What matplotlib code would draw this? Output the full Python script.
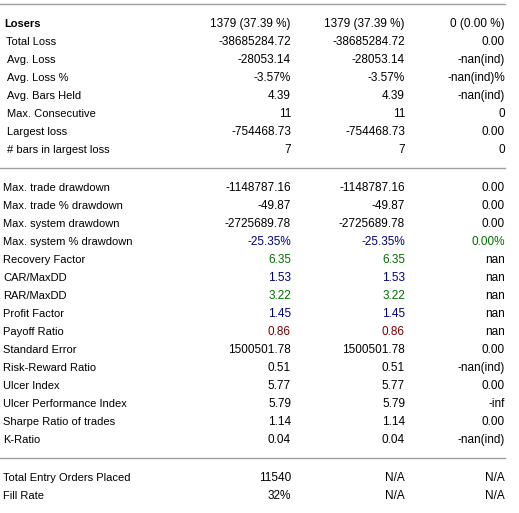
import matplotlib.pyplot as plt

# section 1: losers
loser_labels = ['Losers', 'Total Loss', 'Avg. Loss', 'Avg. Loss %', 'Avg. Bars Held',
                'Max. Consecutive', 'Largest loss', '# bars in largest loss']
loser_all = ['1379 (37.39 %)', '-38685284.72', '-28053.14', '-3.57%', '4.39', '11',
             '-754468.73', '7']
loser_long = ['1379 (37.39 %)', '-38685284.72', '-28053.14', '-3.57%', '4.39', '11',
              '-754468.73', '7']
loser_short = ['0 (0.00 %)', '0.00', '-nan(ind)', '-nan(ind)%', '-nan(ind)', '0',
               '0.00', '0']

# section 2: drawdown / ratios
stat_labels = ['Max. trade drawdown', 'Max. trade % drawdown', 'Max. system drawdown',
               'Max. system % drawdown', 'Recovery Factor', 'CAR/MaxDD', 'RAR/MaxDD',
               'Profit Factor', 'Payoff Ratio', 'Standard Error', 'Risk-Reward Ratio',
               'Ulcer Index', 'Ulcer Performance Index', 'Sharpe Ratio of trades', 'K-Ratio']
stat_all = ['-1148787.16', '-49.87', '-2725689.78', '-25.35%', '6.35', '1.53', '3.22',
            '1.45', '0.86', '1500501.78', '0.51', '5.77', '5.79', '1.14', '0.04']
stat_long = ['-1148787.16', '-49.87', '-2725689.78', '-25.35%', '6.35', '1.53', '3.22',
             '1.45', '0.86', '1500501.78', '0.51', '5.77', '5.79', '1.14', '0.04']
stat_short = ['0.00', '0.00', '0.00', '0.00%', 'nan', 'nan', 'nan', 'nan', 'nan',
              '0.00', '-nan(ind)', '0.00', '-inf', '0.00', '-nan(ind)']
# colour code per row for the value cells (k=black, b=blue, g=green, r=red)
stat_tone_all = ['k', 'k', 'k', 'b', 'g', 'b', 'g', 'b', 'r', 'k', 'k', 'k', 'k', 'k', 'k']
stat_tone_short = ['k', 'k', 'k', 'g', 'k', 'k', 'k', 'k', 'k', 'k', 'k', 'k', 'k', 'k', 'k']

# section 3: orders
order_labels = ['Total Entry Orders Placed', 'Fill Rate']
order_all = ['11540', '32%']
order_long = ['N/A', 'N/A']
order_short = ['N/A', 'N/A']

tones = {'k': 'black', 'b': '#000080', 'g': '#007000', 'r': '#800000'}

W, H = 519, 513
fig = plt.figure(figsize=(W / 100, H / 100), dpi=100)
ax = fig.add_axes([0, 0, 1, 1])
ax.set_xlim(0, W)
ax.set_ylim(H, 0)
ax.axis('off')

font = dict(family=['Liberation Sans', 'DejaVu Sans'], fontsize=8)
vfont = dict(family=['Liberation Sans', 'DejaVu Sans'], fontsize=8.5)
col_x = [291, 405, 505]
step = 18

for y in [4, 168, 458]:
    ax.plot([0, 505], [y, y], color='#a0a0a0', lw=1)


def draw_rows(y0, labels, c1, c2, c3, lab_x, t1=None, t3=None, bold_first=False):
    for i, lab in enumerate(labels):
        y = y0 + i * step
        bold = bold_first and i == 0
        x = lab_x if not (bold_first and i == 0) else 4
        if bold_first and i == 1:
            x = 6
        ax.text(x, y, lab, ha='left', va='center',
                fontweight='bold' if bold else 'normal', **font)
        c_a = tones[t1[i]] if t1 else 'black'
        c_c = tones[t3[i]] if t3 else 'black'
        ax.text(col_x[0], y, c1[i], ha='right', va='center', color=c_a, **vfont)
        ax.text(col_x[1], y, c2[i], ha='right', va='center', color=c_a, **vfont)
        ax.text(col_x[2], y, c3[i], ha='right', va='center', color=c_c, **vfont)


draw_rows(24, loser_labels, loser_all, loser_long, loser_short, 7, bold_first=True)
draw_rows(188, stat_labels, stat_all, stat_long, stat_short, 3,
          t1=stat_tone_all, t3=stat_tone_short)
draw_rows(478, order_labels, order_all, order_long, order_short, 3)

fig.savefig('out.png', dpi=100, facecolor='white')
